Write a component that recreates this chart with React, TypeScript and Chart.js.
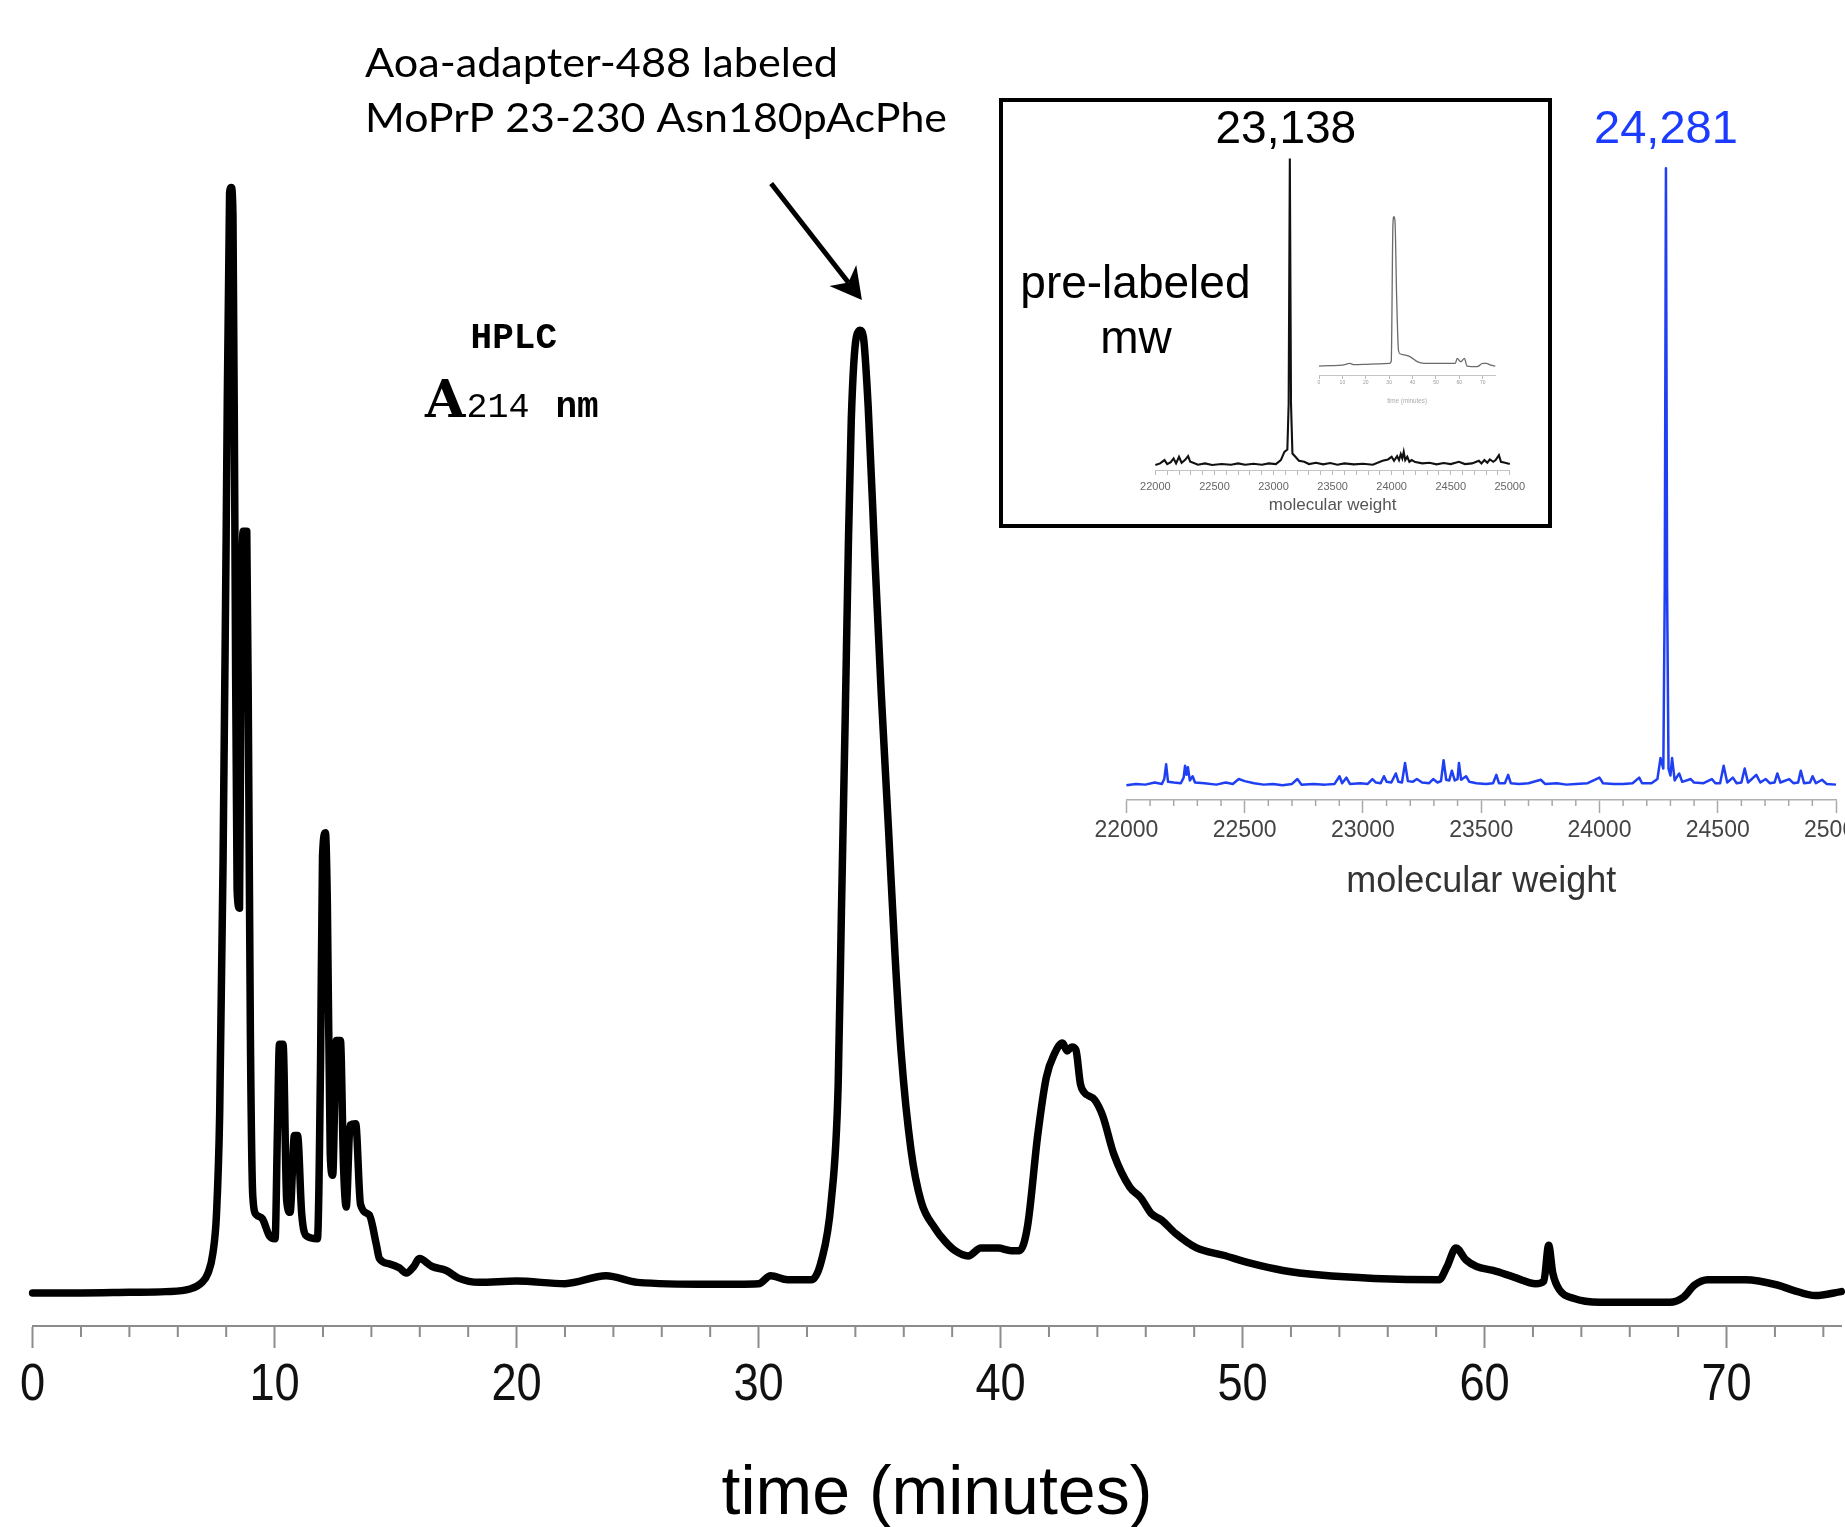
import React, { useEffect, useRef } from "react";
import { Chart, registerables } from "chart.js";

Chart.register(...registerables);

// ---------------- HPLC trace (A214, arbitrary units) ----------------
const hplcTime = [
  0, 2, 4, 5.5, 6.5, 7.0, 7.25, 7.45, 7.6, 7.73,
  7.87, 8.0, 8.14, 8.21, 8.28, 8.36, 8.45, 8.55, 8.62, 8.7,
  8.85, 8.93, 9.0, 9.1, 9.25, 9.5, 9.79, 10.02, 10.12, 10.2,
  10.35, 10.5, 10.64, 10.82, 10.95, 11.12, 11.32, 11.77, 11.9, 11.98,
  12.1, 12.18, 12.3, 12.4, 12.55, 12.72, 12.85, 12.96, 13.12, 13.35,
  13.55, 13.91, 14.2, 14.33, 14.74, 15.15, 15.44, 15.75, 15.98, 16.51,
  17.09, 17.62, 18.45, 20, 22, 23.7, 25, 28, 30, 30.5,
  31.2, 32.18, 32.59, 33.0, 33.29, 33.42, 33.58, 33.71, 33.83, 34.04,
  34.2, 34.33, 34.53, 34.82, 35.07, 35.36, 35.64, 35.89, 36.3, 36.72,
  37.29, 37.71, 38.12, 38.66, 39.19, 39.9, 40.43, 40.78, 41.11, 41.54,
  41.89, 42.23, 42.56, 42.75, 42.95, 43.11, 43.3, 43.44, 43.89, 44.22,
  44.68, 45.34, 45.79, 46.23, 46.66, 47.23, 48.1, 49.21, 50.32, 51.67,
  53.21, 55.44, 58.12, 58.45, 58.82, 59.23, 59.67, 60.35, 61.21, 62.12,
  62.45, 62.65, 62.82, 63.11, 63.67, 64.76, 67.65, 68.23, 68.68, 69.22,
  70.78, 72.1, 72.76, 73.67, 74.74,
];
const hplcAbs = [
  2.5, 2.5, 2.55, 2.6, 2.8, 3.3, 4.0, 5.5, 8.5, 16,
  35, 60, 85.7, 86.1, 84, 60, 33, 31.6, 52, 60.1,
  60.1, 42, 22, 9.8, 8.4, 8.1, 6.8, 6.6, 15, 21.3,
  21.3, 9.5, 8.6, 14.4, 14.4, 8.5, 6.8, 6.6, 20, 35.5,
  37.3, 32, 13, 11.4, 21.6, 21.6, 12, 9.0, 15.2, 15.3,
  9.2, 8.4, 6.2, 5.1, 4.7, 4.4, 4.0, 4.5, 5.1, 4.5,
  4.2, 3.6, 3.3, 3.4, 3.2, 3.8, 3.3, 3.15, 3.2, 3.8,
  3.5, 3.5, 4.9, 9.4, 18.3, 31, 46, 59, 68.5, 74.8,
  75.3, 74.8, 69.5, 57.5, 47.8, 37.9, 28, 20.7, 13.3, 9.4,
  7.4, 6.4, 5.7, 5.3, 5.9, 5.9, 5.7, 5.7, 7.5, 14.5,
  18.8, 20.6, 21.4, 20.8, 21.1, 20.9, 18.3, 17.7, 17.1, 15.9,
  13, 10.5, 9.7, 8.5, 8.0, 7.0, 5.9, 5.35, 4.75, 4.2,
  3.85, 3.6, 3.5, 4.5, 5.9, 5.0, 4.5, 4.2, 3.7, 3.2,
  3.4, 6.1, 4.0, 2.7, 2.1, 1.8, 1.8, 2.2, 3.1, 3.5,
  3.5, 3.1, 2.7, 2.3, 2.6,
];

// ---------------- labeled product mass spectrum (blue) ----------------
const labeledMass = [
  22000, 22040, 22080, 22120, 22150, 22160, 22168, 22176, 22200, 22230,
  22242, 22248, 22254, 22260, 22268, 22280, 22290, 22330, 22380, 22420,
  22450, 22475, 22500, 22540, 22580, 22620, 22660, 22700, 22723, 22740,
  22790, 22840, 22880, 22901, 22912, 22930, 22945, 22990, 23020, 23040,
  23055, 23075, 23089, 23100, 23120, 23139, 23150, 23165, 23178, 23190,
  23210, 23228, 23250, 23280, 23297, 23315, 23330, 23341, 23352, 23365,
  23376, 23388, 23400, 23406, 23415, 23436, 23450, 23480, 23520, 23550,
  23564, 23575, 23600, 23614, 23625, 23660, 23700, 23752, 23770, 23820,
  23860, 23900, 23950, 24000, 24015, 24060, 24100, 24140, 24168, 24180,
  24220, 24245, 24258, 24270, 24276, 24281, 24286, 24292, 24300, 24307,
  24318, 24337, 24350, 24386, 24400, 24440, 24475, 24490, 24510, 24525,
  24540, 24564, 24580, 24600, 24614, 24628, 24663, 24680, 24703, 24720,
  24740, 24752, 24765, 24802, 24820, 24840, 24851, 24865, 24890, 24901,
  24915, 24941, 24960, 25000,
];
const labeledIntensity = [
  2.1, 2.3, 2.2, 2.5, 2.3, 3.0, 5.1, 2.6, 2.5, 2.4,
  3.2, 4.9, 3.6, 4.7, 2.8, 3.4, 2.5, 2.4, 2.2, 2.5,
  2.3, 3.0, 2.7, 2.4, 2.2, 2.3, 2.1, 2.3, 3.0, 2.2,
  2.3, 2.2, 2.3, 3.4, 2.4, 3.2, 2.3, 2.4, 2.3, 3.0,
  2.5, 2.4, 3.4, 2.6, 2.5, 3.8, 2.6, 2.5, 5.3, 2.7,
  2.6, 3.0, 2.5, 2.4, 3.0, 2.5, 2.7, 5.7, 2.9, 2.8,
  4.2, 2.8, 3.0, 5.3, 2.9, 3.4, 2.6, 2.4, 2.3, 2.4,
  3.6, 2.4, 2.4, 3.6, 2.4, 2.3, 2.4, 2.9, 2.3, 2.4,
  2.2, 2.3, 2.4, 3.2, 2.4, 2.3, 2.3, 2.4, 3.2, 2.4,
  2.4, 3.0, 6.0, 4.5, 30, 90.4, 30, 4.5, 3.5, 6.0,
  2.8, 3.8, 2.6, 3.0, 2.5, 2.4, 3.0, 2.4, 2.4, 4.9,
  2.5, 3.2, 2.4, 2.5, 4.5, 2.5, 3.6, 2.5, 3.0, 2.4,
  2.5, 3.8, 2.5, 3.0, 2.4, 2.5, 4.2, 2.4, 2.5, 3.4,
  2.4, 2.9, 2.3, 2.2,
];
const labeledPeakMass = 24281;
const labeledPeakLabel = "24,281";

// ---------------- inset: pre-labeled mass spectrum ----------------
const preMass = [
  22000, 22040, 22077, 22100, 22130, 22154, 22175, 22200, 22222, 22250,
  22277, 22295, 22320, 22360, 22420, 22480, 22560, 22640, 22700, 22760,
  22830, 22900, 22960, 23020, 23062, 23092, 23117, 23128, 23138, 23148,
  23160, 23185, 23215, 23260, 23300, 23360, 23420, 23480, 23540, 23600,
  23680, 23760, 23840, 23923, 23969, 24000, 24020, 24046, 24062, 24077,
  24090, 24102, 24115, 24132, 24150, 24169, 24200, 24260, 24320, 24380,
  24440, 24500, 24569, 24620, 24680, 24738, 24760, 24785, 24810, 24831,
  24860, 24880, 24908, 24925, 24960, 25000,
];
const preIntensity = [
  1.5, 2.0, 3.0, 1.8, 2.4, 3.5, 2.0, 4.0, 2.2, 3.0,
  4.2, 2.5, 2.2, 1.6, 2.0, 1.5, 1.8, 1.6, 2.0, 1.6,
  1.9, 1.6, 2.0, 1.8, 3.0, 5.5, 6.2, 20, 94.4, 20,
  5.0, 4.0, 2.8, 2.5, 1.8, 2.2, 1.7, 2.1, 1.6, 2.0,
  1.7, 1.9, 1.6, 2.8, 3.2, 4.0, 2.8, 4.2, 3.0, 4.8,
  3.5, 5.5, 3.0, 4.0, 2.5, 3.0, 2.4, 2.0, 2.2, 1.7,
  2.1, 1.8, 2.5, 1.8, 2.0, 2.8, 2.0, 3.0, 2.2, 3.2,
  2.5, 3.0, 4.5, 2.5, 2.2, 1.8,
];
const prePeakMass = 23138;
const prePeakLabel = "23,138";

// ---------------- inset: pre-labeled HPLC thumbnail ----------------
const preHplcTime = [
  0, 5, 10, 13.2, 15, 20, 25, 30.3, 30.9, 31.6,
  32.0, 32.5, 33.2, 34.0, 34.8, 36.5, 38.9, 42.0, 45, 50,
  55, 58.3, 59.1, 60.6, 62.2, 63.3, 67.7, 70.0, 71.5, 73.5,
  75.4,
];
const preHplcAbs = [
  5.1, 5.3, 5.6, 6.6, 5.9, 6.1, 6.4, 6.7, 8, 85,
  90.5, 88, 45, 14, 12, 11.5, 10.5, 7.6, 6.7, 6.7,
  6.7, 6.7, 9.5, 7.6, 9.5, 5.1, 4.8, 6.7, 6.7, 5.6,
  5.1,
];

// ---------------- text ----------------
const annotationLine1 = "Aoa-adapter-488 labeled";
const annotationLine2 = "MoPrP 23-230 Asn180pAcPhe";
const timeTitle = "time (minutes)";
const massTitle = "molecular weight";
const insetLine1 = "pre-labeled";
const insetLine2 = "mw";

const SANS = "'Liberation Sans', Arial, Helvetica, sans-serif";
const GILL = "Lato, 'Open Sans', 'Noto Sans', sans-serif";
const MONO = "'Liberation Mono', 'DejaVu Sans Mono', monospace";
const SERIF = "'DejaVu Serif', 'Liberation Serif', serif";
const BLUE = "#1f3ff2";
const BLUE_TEXT = "#1b3cff";
const AXIS_GRAY = "#8c8c8c";

const toXY = (xs: number[], ys: number[]) => xs.map((x, i) => ({ x, y: ys[i] }));

function fitText(ctx: CanvasRenderingContext2D, text: string, x: number, baseline: number, font: string, width: number) {
  ctx.font = font;
  const w = ctx.measureText(text).width || 1;
  ctx.save();
  ctx.translate(x, baseline);
  ctx.scale(width / w, 1);
  ctx.textAlign = "left";
  ctx.textBaseline = "alphabetic";
  ctx.fillText(text, 0, 0);
  ctx.restore();
}

function drawArrow(ctx: CanvasRenderingContext2D, a: { x: number; y: number }, b: { x: number; y: number }) {
  const dx = b.x - a.x;
  const dy = b.y - a.y;
  const len = Math.hypot(dx, dy);
  const ux = dx / len, uy = dy / len;
  const px = -uy, py = ux;
  const headLen = 31, headW = 17, notch = 22;
  ctx.strokeStyle = "#000";
  ctx.lineWidth = 5;
  ctx.lineCap = "butt";
  ctx.beginPath();
  ctx.moveTo(a.x, a.y);
  ctx.lineTo(b.x - ux * notch, b.y - uy * notch);
  ctx.stroke();
  ctx.fillStyle = "#000";
  ctx.beginPath();
  ctx.moveTo(b.x, b.y);
  ctx.lineTo(b.x - ux * headLen + px * headW, b.y - uy * headLen + py * headW);
  ctx.lineTo(b.x - ux * notch, b.y - uy * notch);
  ctx.lineTo(b.x - ux * headLen - px * headW, b.y - uy * headLen - py * headW);
  ctx.closePath();
  ctx.fill();
}

function drawMinorTicks(chart: any, every: number, len: number, color: string, width: number) {
  const ctx = chart.ctx;
  const xs = chart.scales.x;
  const bottom = chart.chartArea.bottom;
  ctx.save();
  ctx.strokeStyle = color;
  ctx.lineWidth = width;
  ctx.beginPath();
  xs.ticks.forEach((t: any) => {
    if (Math.round(t.value) % every !== 0) {
      const p = xs.getPixelForValue(t.value);
      ctx.moveTo(p, bottom);
      ctx.lineTo(p, bottom + len);
    }
  });
  ctx.stroke();
  ctx.restore();
}

const mainPlugin = {
  id: "mainDecor",
  afterDraw(chart: any) {
    const ctx = chart.ctx;
    const xs = chart.scales.x;
    const ys = chart.scales.y;
    const bottom = chart.chartArea.bottom;
    drawMinorTicks(chart, 10, 11, AXIS_GRAY, 2);
    ctx.save();
    // condensed tick labels of the time axis (major ticks of the x scale)
    ctx.fillStyle = "#111";
    ctx.font = `52px ${SANS}`;
    ctx.textAlign = "center";
    ctx.textBaseline = "middle";
    xs.ticks.forEach((t: any) => {
      if (Math.round(t.value) % 10 === 0) {
        ctx.save();
        ctx.translate(xs.getPixelForValue(t.value), bottom + 22 + 6.8 + 31.2);
        ctx.scale(0.87, 1);
        ctx.fillText(String(t.value), 0, 0);
        ctx.restore();
      }
    });
    ctx.fillStyle = "#000";
    fitText(ctx, annotationLine1, 365, 77, `40px ${GILL}`, 473);
    fitText(ctx, annotationLine2, 365, 132, `40px ${GILL}`, 582);
    drawArrow(
      ctx,
      { x: xs.getPixelForValue(30.52), y: ys.getPixelForValue(86.4) },
      { x: xs.getPixelForValue(34.27), y: ys.getPixelForValue(77.6) }
    );
    ctx.fillStyle = "#000";
    ctx.textAlign = "left";
    ctx.textBaseline = "alphabetic";
    ctx.font = `bold 36px ${MONO}`;
    ctx.fillText("HPLC", 470.6, 348);
    ctx.font = `bold 52px ${SERIF}`;
    ctx.fillText("A", 425, 417);
    ctx.font = `35px ${MONO}`;
    ctx.fillText("214", 466.5, 417);
    ctx.font = `bold 36px ${MONO}`;
    ctx.fillText("nm", 555.5, 417);
    ctx.restore();
  },
};

const bluePlugin = {
  id: "blueDecor",
  afterDraw(chart: any) {
    const ctx = chart.ctx;
    drawMinorTicks(chart, 500, 6, "#a8a8a8", 1.5);
    ctx.save();
    ctx.fillStyle = BLUE_TEXT;
    ctx.font = `47px ${SANS}`;
    ctx.textAlign = "center";
    ctx.textBaseline = "middle";
    ctx.fillText(labeledPeakLabel, chart.scales.x.getPixelForValue(labeledPeakMass), chart.scales.y.getPixelForValue(95.9));
    ctx.restore();
  },
};

const insetPlugin = {
  id: "insetDecor",
  beforeDraw(chart: any) {
    const ctx = chart.ctx;
    ctx.save();
    ctx.fillStyle = "#fff";
    ctx.fillRect(0, 0, chart.width, chart.height);
    ctx.restore();
  },
  afterDraw(chart: any) {
    const ctx = chart.ctx;
    ctx.save();
    ctx.strokeStyle = "#000";
    ctx.lineWidth = 4;
    ctx.strokeRect(2, 2, chart.width - 4, chart.height - 4);
    ctx.fillStyle = "#000";
    ctx.font = `46px ${SANS}`;
    ctx.textAlign = "center";
    ctx.textBaseline = "middle";
    ctx.fillText(prePeakLabel, chart.scales.x.getPixelForValue(prePeakMass) - 4, chart.scales.y.getPixelForValue(103));
    ctx.textBaseline = "alphabetic";
    ctx.fillText(insetLine1, 136.4, 200.3);
    ctx.fillText(insetLine2, 137, 255.3);
    ctx.restore();
  },
};

function mainConfig(): any {
  return {
    type: "scatter",
    data: {
      datasets: [
        {
          data: toXY(hplcTime, hplcAbs),
          showLine: true,
          borderColor: "#000",
          borderWidth: 7.5,
          pointRadius: 0,
          cubicInterpolationMode: "monotone",
          borderJoinStyle: "round",
          borderCapStyle: "round",
          clip: false,
        },
      ],
    },
    options: {
      responsive: false,
      animation: false,
      devicePixelRatio: 1,
      events: [],
      layout: { padding: { left: 32.6, right: 0, top: 0, bottom: 5 } },
      plugins: { legend: { display: false }, tooltip: { enabled: false } },
      scales: {
        x: {
          type: "linear",
          min: 0,
          max: 74.74,
          afterFit: (s: any) => { s.height = 214; },
          ticks: {
            display: false,
            stepSize: 2,
            includeBounds: false,
            autoSkip: false,
            maxRotation: 0,
          },
          grid: {
            display: true,
            drawOnChartArea: false,
            drawTicks: true,
            tickLength: 22,
            tickWidth: 2,
            tickColor: (c: any) => (c.tick && Math.round(c.tick.value) % 10 === 0 ? AXIS_GRAY : "rgba(0,0,0,0)"),
          },
          border: { display: true, color: AXIS_GRAY, width: 2 },
          title: {
            display: true,
            text: timeTitle,
            color: "#000",
            font: { family: SANS, size: 68 },
            padding: { top: 37, bottom: 4 },
          },
        },
        y: { display: false, min: 0, max: 100 },
      },
    },
    plugins: [mainPlugin],
  };
}

function blueConfig(): any {
  return {
    type: "scatter",
    data: {
      datasets: [
        {
          data: toXY(labeledMass, labeledIntensity),
          showLine: true,
          borderColor: BLUE,
          borderWidth: 2.5,
          pointRadius: 0,
          tension: 0,
          borderJoinStyle: "round",
          clip: false,
        },
      ],
    },
    options: {
      responsive: false,
      animation: false,
      devicePixelRatio: 1,
      events: [],
      layout: { padding: { left: 40.4, right: 40, top: 0, bottom: 0 } },
      plugins: { legend: { display: false }, tooltip: { enabled: false } },
      scales: {
        x: {
          type: "linear",
          min: 22000,
          max: 25000,
          afterFit: (s: any) => { s.height = 108; },
          ticks: {
            stepSize: 100,
            autoSkip: false,
            maxRotation: 0,
            padding: 4.2,
            color: "#444",
            font: { family: SANS, size: 23 },
            callback: (v: number) => (Math.round(v) % 500 === 0 ? String(v) : ""),
          },
          grid: {
            display: true,
            drawOnChartArea: false,
            drawTicks: true,
            tickLength: 13,
            tickWidth: 1.5,
            tickColor: (c: any) => (c.tick && Math.round(c.tick.value) % 500 === 0 ? "#a8a8a8" : "rgba(0,0,0,0)"),
          },
          border: { display: true, color: "#b0b0b0", width: 1.5 },
          title: {
            display: true,
            text: massTitle,
            color: "#333",
            font: { family: SANS, size: 36 },
            padding: { top: 10, bottom: 4.4 },
          },
        },
        y: { display: false, min: 0, max: 100 },
      },
    },
    plugins: [bluePlugin],
  };
}

function insetConfig(): any {
  return {
    type: "scatter",
    data: {
      datasets: [
        {
          data: toXY(preMass, preIntensity),
          showLine: true,
          borderColor: "#111",
          borderWidth: 2.1,
          pointRadius: 0,
          tension: 0,
          clip: false,
        },
      ],
    },
    options: {
      responsive: false,
      animation: false,
      devicePixelRatio: 1,
      events: [],
      layout: { padding: { left: 156.4, right: 42.2, top: 42, bottom: 0 } },
      plugins: { legend: { display: false }, tooltip: { enabled: false } },
      scales: {
        x: {
          type: "linear",
          min: 22000,
          max: 25000,
          afterFit: (s: any) => { s.height = 58; },
          ticks: {
            stepSize: 100,
            autoSkip: false,
            maxRotation: 0,
            padding: 5.7,
            color: "#666",
            font: { family: SANS, size: 11 },
            callback: (v: number) => (Math.round(v) % 500 === 0 ? String(v) : ""),
          },
          grid: {
            display: true,
            drawOnChartArea: false,
            drawTicks: true,
            tickLength: 5,
            tickWidth: 1,
            tickColor: "#bbb",
          },
          border: { display: true, color: "#c4c4c4", width: 1 },
          title: {
            display: true,
            text: massTitle,
            color: "#555",
            font: { family: SANS, size: 17 },
            padding: { top: 2, bottom: 12.8 },
          },
        },
        y: { display: false, min: 0, max: 100 },
      },
    },
    plugins: [insetPlugin],
  };
}

function thumbConfig(): any {
  return {
    type: "scatter",
    data: {
      datasets: [
        {
          data: toXY(preHplcTime, preHplcAbs),
          showLine: true,
          borderColor: "#6a6a6a",
          borderWidth: 1.3,
          pointRadius: 0,
          cubicInterpolationMode: "monotone",
          clip: false,
        },
      ],
    },
    options: {
      responsive: false,
      animation: false,
      devicePixelRatio: 1,
      events: [],
      layout: { padding: { left: 19, right: 14.7, top: 5, bottom: 0 } },
      plugins: { legend: { display: false }, tooltip: { enabled: false } },
      scales: {
        x: {
          type: "linear",
          min: 0,
          max: 75.4,
          afterFit: (s: any) => { s.height = 40; },
          ticks: {
            stepSize: 10,
            includeBounds: false,
            autoSkip: false,
            maxRotation: 0,
            padding: 0.7,
            color: "#999",
            font: { family: SANS, size: 5 },
          },
          grid: {
            display: true,
            drawOnChartArea: false,
            drawTicks: true,
            tickLength: 4,
            tickWidth: 1,
            tickColor: "#bbb",
          },
          border: { display: true, color: "#c4c4c4", width: 1 },
          title: {
            display: true,
            text: timeTitle,
            color: "#aaa",
            font: { family: SANS, size: 6.3 },
            padding: { top: 2, bottom: 9.5 },
          },
        },
        y: { display: false, min: 0, max: 100 },
      },
    },
  };
}

export default function App() {
  const mainRef = useRef<HTMLCanvasElement>(null);
  const blueRef = useRef<HTMLCanvasElement>(null);
  const insetRef = useRef<HTMLCanvasElement>(null);
  const thumbRef = useRef<HTMLCanvasElement>(null);

  useEffect(() => {
    const charts: Chart[] = [];
    if (mainRef.current) charts.push(new Chart(mainRef.current, mainConfig()));
    if (blueRef.current) charts.push(new Chart(blueRef.current, blueConfig()));
    if (insetRef.current) charts.push(new Chart(insetRef.current, insetConfig()));
    if (thumbRef.current) charts.push(new Chart(thumbRef.current, thumbConfig()));
    let alive = true;
    const fonts = [
      `40px Lato`,
      `47px "Liberation Sans"`,
      `bold 36px "Liberation Mono"`,
      `35px "Liberation Mono"`,
      `bold 50px "DejaVu Serif"`,
    ];
    const fs: any = (document as any).fonts;
    if (fs && fs.load) {
      Promise.all(fonts.map((f) => fs.load(f).catch(() => null))).then(() => {
        if (alive) charts.forEach((c) => c.update());
      });
    }
    return () => {
      alive = false;
      charts.forEach((c) => c.destroy());
    };
  }, []);

  const abs = (left: number, top: number): React.CSSProperties => ({ position: "absolute", left, top });

  return (
    <div style={{ position: "fixed", left: 0, top: 0, width: 1845, height: 1527, overflow: "hidden", background: "#fff" }}>
      <canvas ref={mainRef} width={1845} height={1545} style={abs(0, 0)} />
      <canvas ref={blueRef} width={790} height={808} style={abs(1086, 100)} />
      <canvas ref={insetRef} width={553} height={430} style={abs(999, 98)} />
      <canvas ref={thumbRef} width={210} height={220} style={abs(1300, 195)} />
    </div>
  );
}
